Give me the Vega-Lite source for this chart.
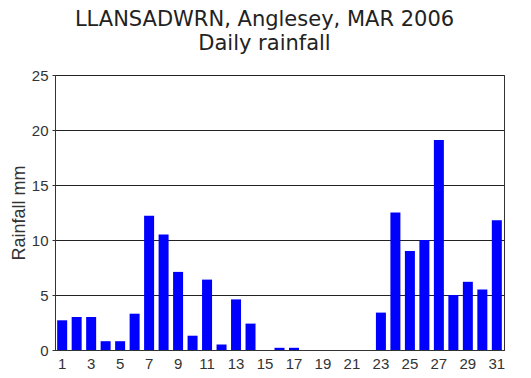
{
  "$schema": "https://vega.github.io/schema/vega-lite/v6.json",
  "width": 449,
  "height": 275,
  "autosize": {"type": "none"},
  "padding": {"left": 55, "top": 75, "right": 27, "bottom": 28},
  "background": "white",
  "title": {
    "text": ["LLANSADWRN, Anglesey, MAR 2006", "Daily rainfall"],
    "font": "DejaVu Sans",
    "fontSize": 21,
    "fontWeight": "normal",
    "color": "#222222",
    "anchor": "middle",
    "offset": 14,
    "dx": -15,
    "lineHeight": 24
  },
  "config": {
    "view": {"stroke": "#333333", "strokeWidth": 1},
    "axis": {"labelFont": "Liberation Sans", "titleFont": "Liberation Sans"}
  },
  "data": {
    "values": [
      {"day": 1, "rain": 2.7}, {"day": 2, "rain": 3.0}, {"day": 3, "rain": 3.0},
      {"day": 4, "rain": 0.8}, {"day": 5, "rain": 0.8}, {"day": 6, "rain": 3.3},
      {"day": 7, "rain": 12.2}, {"day": 8, "rain": 10.5}, {"day": 9, "rain": 7.1},
      {"day": 10, "rain": 1.3}, {"day": 11, "rain": 6.4}, {"day": 12, "rain": 0.5},
      {"day": 13, "rain": 4.6}, {"day": 14, "rain": 2.4}, {"day": 15, "rain": 0},
      {"day": 16, "rain": 0.2}, {"day": 17, "rain": 0.2}, {"day": 18, "rain": 0},
      {"day": 19, "rain": 0}, {"day": 20, "rain": 0}, {"day": 21, "rain": 0},
      {"day": 22, "rain": 0}, {"day": 23, "rain": 3.4}, {"day": 24, "rain": 12.5},
      {"day": 25, "rain": 9.0}, {"day": 26, "rain": 10.0}, {"day": 27, "rain": 19.1},
      {"day": 28, "rain": 5.0}, {"day": 29, "rain": 6.2}, {"day": 30, "rain": 5.5},
      {"day": 31, "rain": 11.8}
    ]
  },
  "mark": {"type": "bar", "color": "#0000ff"},
  "encoding": {
    "x": {
      "field": "day",
      "type": "ordinal",
      "scale": {"paddingInner": 0.31, "paddingOuter": 0.15},
      "axis": {
        "title": null,
        "values": [1, 3, 5, 7, 9, 11, 13, 15, 17, 19, 21, 23, 25, 27, 29, 31],
        "labelAngle": 0,
        "ticks": false,
        "domain": true,
        "domainColor": "#333333",
        "labelFontSize": 15,
        "labelColor": "#333333",
        "labelPadding": 6
      }
    },
    "y": {
      "field": "rain",
      "type": "quantitative",
      "scale": {"domain": [0, 25], "nice": false},
      "axis": {
        "title": "Rainfall mm",
        "titleFontSize": 18,
        "titleFontWeight": "normal",
        "titleColor": "#333333",
        "titlePadding": 3,
        "values": [0, 5, 10, 15, 20, 25],
        "grid": true,
        "gridColor": "#222222",
        "gridOpacity": 1,
        "domainColor": "#333333",
        "ticks": true,
        "tickSize": 3,
        "tickColor": "#333333",
        "labelPadding": 4,
        "labelFontSize": 15,
        "labelColor": "#333333"
      }
    }
  }
}
